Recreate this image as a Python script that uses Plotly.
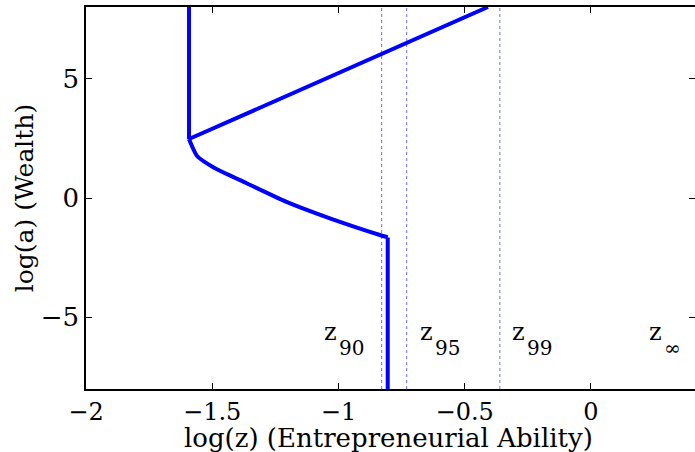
import plotly.graph_objects as go

# Threshold curve (log z, log a)
top_x = [-1.592, -1.592]
top_y = [8.0, 2.47]
curve_x = [-1.592, -1.560, -1.496, -1.364, -1.206, -1.034, -0.836, -0.805]
curve_y = [2.47, 1.76, 1.29, 0.62, -0.16, -0.85, -1.55, -1.65]
bottom_x = [-0.805, -0.805]
bottom_y = [-1.65, -8.0]
upper_x = [-1.592, -0.408]
upper_y = [2.47, 8.0]

# Percentile cutoffs (dotted vertical lines)
cut_x = [-0.829, -0.730, -0.361]

# Labels
label_sub = ["90", "95", "99", "∞"]
label_x = [-1.066, -0.685, -0.321, 0.222]

x_ticks = [-2, -1.5, -1, -0.5, 0]
x_tick_text = ["−2", "−1.5", "−1", "−0.5", "0"]
y_ticks = [-5, 0, 5]
y_tick_text = ["−5", "0", "5"]
x_title = "log(z) (Entrepreneurial Ability)"
y_title = "log(a) (Wealth)"

FONT = "DejaVu Serif"
fig = go.Figure()
for cx in cut_x:
    fig.add_trace(go.Scatter(x=[cx, cx], y=[-8, 8], mode="lines",
                             line=dict(color="rgb(110,110,255)", width=1, dash="dot"),
                             showlegend=False, hoverinfo="skip"))
for xs, ys, shape in [(top_x, top_y, "linear"), (curve_x, curve_y, "spline"),
                      (bottom_x, bottom_y, "linear"), (upper_x, upper_y, "linear")]:
    fig.add_trace(go.Scatter(x=xs, y=ys, mode="lines",
                             line=dict(color="#0000ff", width=4, shape=shape, smoothing=0.6),
                             showlegend=False))
# invisible trace for right-side ticks
fig.add_trace(go.Scatter(x=[0], y=[0], yaxis="y2", mode="markers",
                         marker=dict(opacity=0), showlegend=False, hoverinfo="skip"))

for s, lx in zip(label_sub, label_x):
    fig.add_annotation(x=lx, y=-5.62, text="z", showarrow=False, xanchor="left",
                       yanchor="middle", font=dict(family=FONT, size=24, color="black"))
    fig.add_annotation(x=lx + 0.06, y=-6.3, text=s, showarrow=False, xanchor="left",
                       yanchor="middle", font=dict(family=FONT, size=20, color="black"))

# x-axis title placed as annotation for exact vertical position
fig.add_annotation(x=0.5, y=0, xref="paper", yref="paper", text=x_title,
                   showarrow=False, xanchor="center", yanchor="top", yshift=-32,
                   xshift=-2, font=dict(family=FONT, size=26, color="black"))

fig.update_layout(
    width=695, height=452,
    margin=dict(l=86, r=0, t=7, b=63),
    plot_bgcolor="white", paper_bgcolor="white",
    font=dict(family=FONT, size=26, color="black"),
    xaxis=dict(range=[-2, 0.412], tickvals=x_ticks, ticktext=x_tick_text,
               ticks="inside", ticklen=6, tickwidth=1, tickcolor="black",
               showline=True, linecolor="black", linewidth=1.5, mirror="ticks",
               showgrid=False, zeroline=False, tickfont=dict(size=24)),
    yaxis=dict(range=[-8, 8], tickvals=y_ticks, ticktext=y_tick_text,
               ticks="inside", ticklen=6, tickwidth=1, tickcolor="black",
               showline=True, linecolor="black", linewidth=1.5,
               showgrid=False, zeroline=False,
               title=dict(text=y_title, standoff=0, font=dict(size=25))),
    yaxis2=dict(range=[-8, 8], overlaying="y", side="right", tickvals=y_ticks,
                showticklabels=False, ticks="inside", ticklen=6, tickwidth=1,
                tickcolor="black", showline=False, showgrid=False, zeroline=False),
)
fig.write_html("out.html")
